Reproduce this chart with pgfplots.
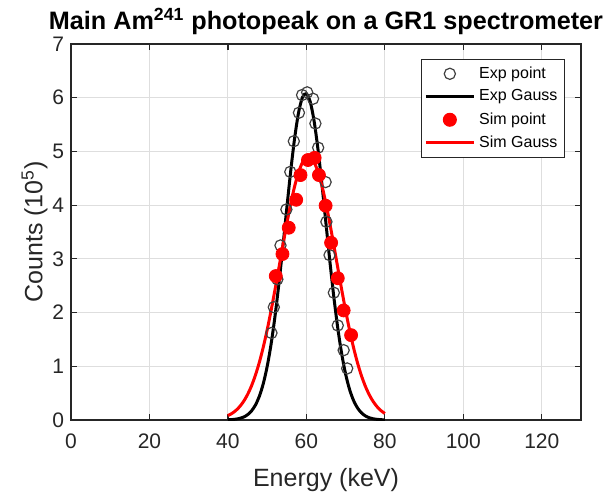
\documentclass[border=0pt]{standalone}
\usepackage{fontspec}
\setmainfont{Liberation Sans}
\usepackage{pgfplots}
\pgfplotsset{compat=1.18}
\definecolor{axgray}{rgb}{0.15,0.15,0.15}
\definecolor{gridgray}{rgb}{0.87,0.87,0.87}
\definecolor{circgray}{rgb}{0.25,0.25,0.25}

\begin{document}
\begin{tikzpicture}
  \begin{axis}[
    scale only axis,
    width=255pt, height=188pt,
    xmin=0, xmax=130, ymin=0, ymax=7,
    xtick={0,20,...,120},
    ytick={0,1,...,7},
    grid=major,
    major grid style={gridgray, line width=0.5pt},
    axis line style={axgray, line width=0.6pt},
    tick style={axgray, line width=0.6pt},
    tick align=inside,
    major tick length=3pt,
    ticklabel style={font=\fontsize{10.5}{12}\selectfont, text=axgray},
    xticklabel style={yshift=-3.5pt},
    /pgf/number format/assume math mode=true,
    xlabel={Energy (keV)},
    ylabel={Counts (10\textsuperscript{5})},
    label style={font=\fontsize{12.5}{14}\selectfont, text=axgray},
    xlabel style={yshift=-3pt},
    ylabel style={yshift=-4.5pt},
    title={\textbf{Main Am\textsuperscript{241} photopeak on a GR1 spectrometer}},
    title style={font=\fontsize{12.6}{14}\selectfont, yshift=-5pt},
    legend style={at={(1,1)}, anchor=north east, xshift=-8pt, yshift=-7.5pt,
      font=\fontsize{8}{9}\selectfont, draw=axgray, line width=0.5pt,
      row sep=0.3pt, inner sep=1.5pt},
    legend cell align=left,
    legend image code/.code={
      \draw[mark repeat=2, mark phase=2, #1]
        plot coordinates {(0cm,0cm) (0.42cm,0cm) (0.84cm,0cm)};},
  ]
  % Exp point
  \addplot[only marks, mark=o, mark size=2.8pt, mark options={circgray, line width=0.6pt}] coordinates {
    (51.1,1.62) (51.7,2.10) (52.6,2.62) (53.4,3.25) (54.9,3.92) (55.9,4.62)
    (56.8,5.19) (58.1,5.72) (58.9,6.05) (60.2,6.10) (61.7,5.98) (62.3,5.52)
    (63.0,5.07) (64.9,4.43) (65.1,3.69) (65.9,3.07) (67.0,2.37) (68.0,1.76)
    (69.5,1.30) (70.4,0.96)
  };
  \addlegendentry{Exp point}
  % Exp Gauss
  \addplot[black, line width=1.5pt, smooth] coordinates {
    (40,0.0038) (41,0.0078) (42,0.0155) (43,0.0297) (44,0.055) (45,0.0978)
    (46,0.168) (47,0.277) (48,0.440) (49,0.674) (50,0.995) (51,1.412)
    (52,1.931) (53,2.543) (54,3.225) (55,3.938) (56,4.631) (57,5.245)
    (58,5.720) (59,6.007) (60,6.075) (61,5.917) (62,5.550) (63,5.013)
    (64,4.360) (65,3.652) (66,2.946) (67,2.288) (68,1.712) (69,1.233)
    (70,0.855) (71,0.571) (72,0.367) (73,0.228) (74,0.136) (75,0.078)
    (76,0.043) (77,0.023) (78,0.0118) (79,0.0058) (80,0.0028)
  };
  \addlegendentry{Exp Gauss}
  % Sim point
  \addplot[only marks, mark=*, mark size=3.25pt, mark options={red, draw=red}] coordinates {
    (52.2,2.68) (53.9,3.09) (55.5,3.58) (57.4,4.10) (58.5,4.56) (60.4,4.84)
    (62.1,4.88) (63.2,4.56) (64.9,3.99) (66.3,3.30) (68.0,2.64) (69.5,2.04)
    (71.4,1.58)
  };
  \addlegendentry{Sim point}
  % Sim Gauss
  \addplot[red, line width=1.5pt, smooth] coordinates {
    (40,0.0823) (41,0.1214) (42,0.1757) (43,0.2493) (44,0.3469) (45,0.4736)
    (46,0.634) (47,0.8326) (48,1.072) (49,1.354) (50,1.677) (51,2.037)
    (52,2.427) (53,2.835) (54,3.249) (55,3.651) (56,4.024) (57,4.350)
    (58,4.611) (59,4.794) (60,4.888) (61,4.888) (62,4.794) (63,4.611)
    (64,4.350) (65,4.024) (66,3.651) (67,3.249) (68,2.835) (69,2.427)
    (70,2.037) (71,1.677) (72,1.354) (73,1.072) (74,0.8326) (75,0.634)
    (76,0.4736) (77,0.3469) (78,0.2493) (79,0.1757) (80,0.1214)
  };
  \addlegendentry{Sim Gauss}
  \end{axis}
  \pgfresetboundingbox
  \path[use as bounding box] ([xshift=-35.5pt,yshift=-36.5pt]current axis.south west)
    rectangle ([xshift=14pt,yshift=22pt]current axis.north east);
\end{tikzpicture}
\end{document}
